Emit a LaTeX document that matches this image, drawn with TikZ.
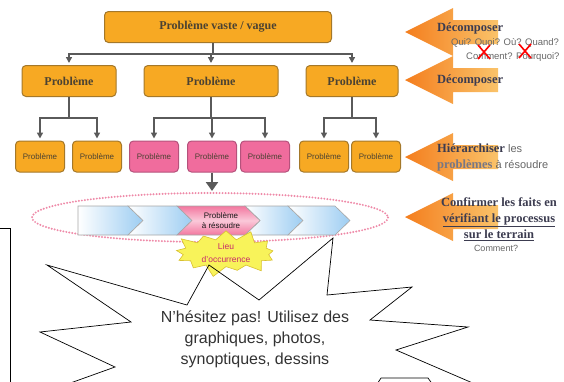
\documentclass[tikz,border=0pt]{standalone}
\usepackage{fontspec}
\setmainfont{Liberation Serif}
\setsansfont{Liberation Sans}
\usetikzlibrary{arrows.meta,shapes.symbols,positioning}

\definecolor{boxorange}{HTML}{F7A923}
\definecolor{orangeedge}{HTML}{A4782A}
\definecolor{boxpink}{HTML}{F06C9D}
\definecolor{pinkedge}{HTML}{B5527C}
\definecolor{linegray}{HTML}{5A5A5A}
\definecolor{boxtext}{HTML}{4B4232}
\definecolor{slate}{HTML}{3C3C50}
\definecolor{arroworange}{HTML}{F47E1E}
\definecolor{shafttail}{HTML}{FAC36A}
\definecolor{chevblue}{HTML}{9DCDF2}
\definecolor{chevpink}{HTML}{F3779F}
\definecolor{dotpink}{HTML}{EE8AA8}
\definecolor{burstyellow}{HTML}{F8F35A}
\definecolor{burstedge}{HTML}{D8C030}
\definecolor{lieutext}{HTML}{C82A6A}

\tikzset{
  bigbox/.style={draw=orangeedge, fill=boxorange, rounded corners=4pt, line width=1pt,
    minimum height=31pt, inner sep=0pt, text=boxtext, font=\fontsize{12}{14}\selectfont\bfseries},
  smallbox/.style={draw=orangeedge, fill=boxorange, rounded corners=4pt, line width=1pt,
    minimum width=49pt, minimum height=31pt, inner sep=0pt, text=boxtext,
    font=\sffamily\fontsize{8}{10}\selectfont},
  link/.style={draw=linegray, line width=1.8pt, -{Triangle[length=6pt,width=6pt]}},
  chevron/.style={draw=gray!70, line width=0.6pt},
  hint/.style={text=slate, font=\fontsize{12.5}{16}\selectfont\bfseries},
  note/.style={text=gray!80!black, font=\sffamily\fontsize{9.5}{12}\selectfont},
}

\begin{document}
\begin{tikzpicture}[x=1pt,y=-1pt]
\useasboundingbox (0,0) rectangle (564,381);

% tree of problems
\node[bigbox, minimum width=227pt] (vague) at (218,27) {Problème vaste / vague};
\node[bigbox, minimum width=94pt] (pb1) at (69,81) {Problème};
\node[bigbox, minimum width=134pt] (pb2) at (211,81) {Problème};
\node[bigbox, minimum width=92pt] (pb3) at (352,81) {Problème};
\foreach \n/\x/\c/\e in {a/40/boxorange/orangeedge, b/97/boxorange/orangeedge,
    c/154/boxpink/pinkedge, d/212/boxpink/pinkedge, e/265/boxpink/pinkedge,
    f/324/boxorange/orangeedge, g/376/boxorange/orangeedge}
  \node[smallbox, fill=\c, draw=\e] (sub\n) at (\x,156.5) {Problème};

\foreach \t in {pb1,pb2,pb3}
  \draw[link, shorten >=2pt] ([xshift=-5pt]vague.south) -- ++(0,11) -| (\t.north);
\foreach \p/\k in {pb1/a, pb1/b, pb2/c, pb2/d, pb2/e, pb3/f, pb3/g}
  \draw[link, shorten >=2pt] (\p.south) -- ++(0,21) -| (sub\k.north);

% process band
\draw[dotpink, line width=2.2pt, line cap=round, dash pattern=on 0pt off 3pt]
  (210,217.5) ellipse [x radius=178, y radius=24.5];
\shadedraw[chevron, left color=white, right color=chevblue]
  (78,206) -- (128,206) -- (143,220.5) -- (128,235) -- (78,235) -- cycle;
\foreach \l/\r in {128/177, 245/288, 288/335}
  \shadedraw[chevron, left color=white, right color=chevblue]
    (\l,206) -- (\r,206) -- (\r+15,220.5) -- (\r,235) -- (\l,235) -- (\l+15,220.5) -- cycle;
\shadedraw[chevron, top color=chevpink, bottom color=chevpink, middle color=chevpink!40]
  (177,206) -- (245,206) -- (260,220.5) -- (245,235) -- (177,235) -- (192,220.5) -- cycle;
\node[align=center, text=gray!20!black, font=\sffamily\fontsize{8}{10}\selectfont]
  (focus) at (221,220.5) {Problème\\à résoudre};

\coordinate (drop) at (212,191);
\draw[link, line width=2.4pt, -{Triangle[length=9pt,width=12pt]}] (subd) -- (drop);

\node[starburst, starburst points=13, starburst point height=12pt, fill=burstyellow,
  draw=burstedge, line width=0.6pt, minimum width=110pt, minimum height=46pt, inner sep=0pt,
  align=center, text=lieutext, font=\sffamily\fontsize{8.5}{13}\selectfont]
  (lieu) at (226,253) {Lieu\\d'occurrence};

% callout
\begin{scope}
\clip (0,0) rectangle (564,381);
\draw[line width=0.7pt] (47,265) -- (187,305) -- (209,265) -- (259,300) -- (333,238)
  -- (327,295) -- (412,287) -- (370,320) -- (468,327) -- (396,350) -- (475,384)
  -- (440,395) -- (428,378) -- (381,378) -- (370,395) -- (37,395) -- (115,367)
  -- (40,332) -- (131,322) -- cycle;
\draw[line width=0.7pt] (-5,228) -- (10,228) -- (10,390);
\end{scope}
\node[align=center, text=black!80, font=\sffamily\fontsize{16}{21}\selectfont]
  (tip) at (255,339) {N'hésitez pas! Utilisez des\\graphiques, photos,\\synoptiques, dessins};

% orange arrows on the right
\foreach \y in {32,80,157,217}
  \shade[left color=arroworange, right color=shafttail] (405,\y) -- (453,\y-24) -- (453,\y-12)
    -- (498,\y-12) -- (498,\y+12) -- (453,\y+12) -- (453,\y+24) -- cycle;

\node[hint, anchor=west, inner sep=0pt] (dec1) at (437,28) {Décomposer};
\node[note, anchor=west, inner sep=0pt] (qui) at (451,43) {Qui? Quoi? Où? Quand?};
\node[note, anchor=west, inner sep=0pt] (pourquoi) at (466,57) {Comment? Pourquoi?};
\foreach \x/\y in {484/52, 525/51}
  \draw[red, line width=1.6pt] (\x-6,\y-7) -- (\x+6,\y+7) (\x-6,\y+7) -- (\x+6,\y-7);
\node[hint, anchor=west, inner sep=0pt] (dec2) at (437,80) {Décomposer};
\node[note, anchor=west, inner sep=0pt, align=left, font=\sffamily\fontsize{11}{16}\selectfont]
  (hier) at (437,157) {{\rmfamily\bfseries\color{slate}\fontsize{12.5}{16}\selectfont Hiérarchiser} les\\
  {\rmfamily\bfseries\color{slate!70}\fontsize{12.5}{16}\selectfont problèmes} à résoudre};
\node[hint, align=center, inner sep=0pt] (verif) at (499,219)
  {Confirmer les faits en\\\underline{vérifiant le processus}\\\underline{sur le terrain}};
\node[note, inner sep=0pt, font=\sffamily\fontsize{9}{11}\selectfont] (comment) at (496,248) {Comment?};
\end{tikzpicture}
\end{document}
